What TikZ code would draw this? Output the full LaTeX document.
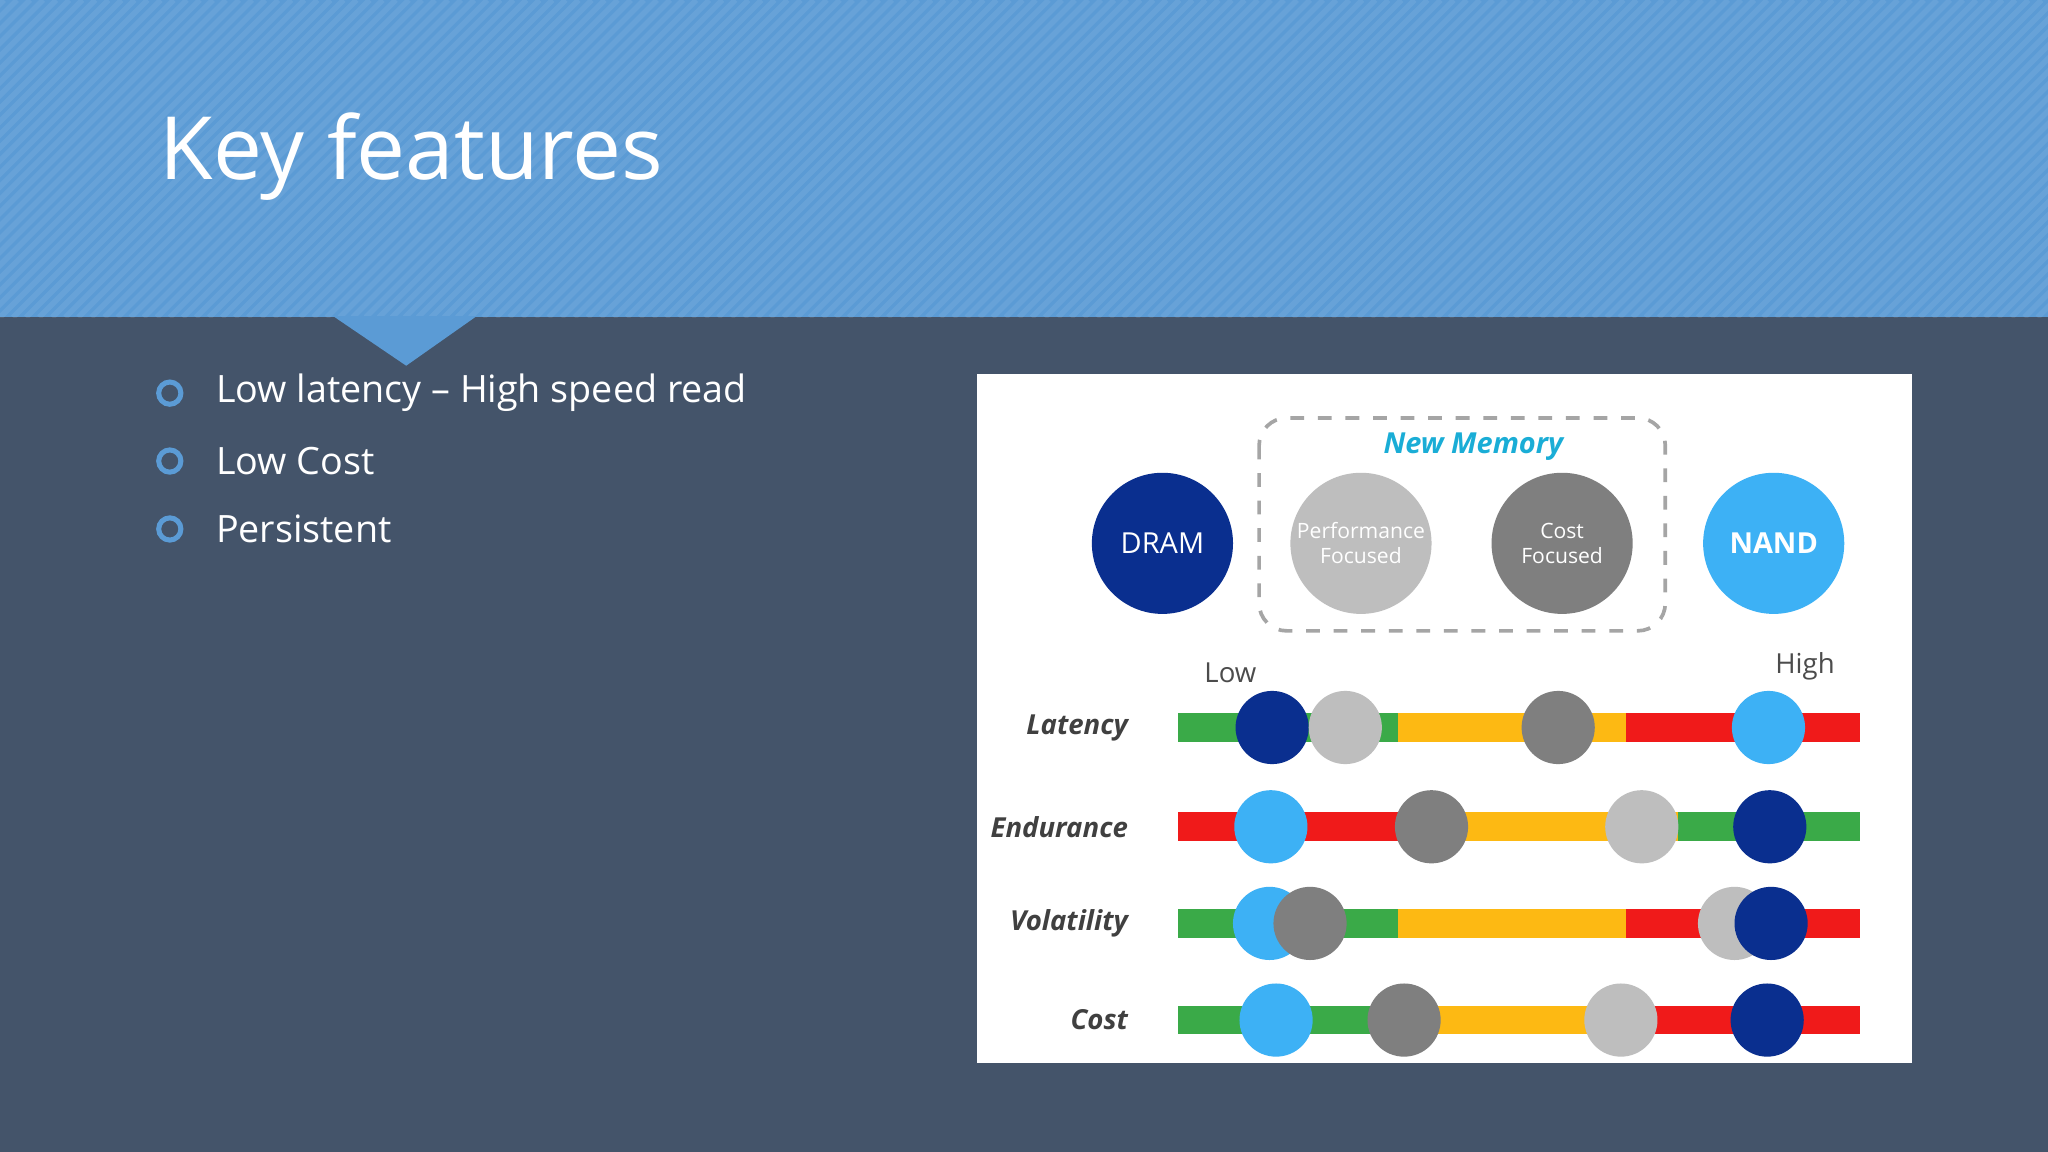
\documentclass[tikz,border=0pt]{standalone}
\usepackage{fontspec}
\setmainfont{Open Sans}
\begin{document}
\begin{tikzpicture}[x=0.01cm,y=-0.01cm,
  bul/.style={draw=cbul,line width=1.1pt,circle,minimum size=0.17cm,inner sep=0},
  btxt/.style={anchor=west,text=white,font=\fontsize{8.2}{10}\selectfont},
  big/.style={circle,minimum size=1.08cm,inner sep=0,text=white,align=center},
  dot/.style={circle,minimum size=0.56cm,inner sep=0},
  rlab/.style={anchor=east,font=\bfseries\itshape\fontsize{6}{7}\selectfont,text=black!75},
  bar/.style={line width=0.22cm}]
\definecolor{top}{HTML}{5B9BD5}
\definecolor{bg}{HTML}{44546A}
\definecolor{cbul}{HTML}{5B9BD5}
\definecolor{dblue}{HTML}{0A2F8F}
\definecolor{lblue}{HTML}{3DB1F5}
\definecolor{lgray}{HTML}{BEBEBE}
\definecolor{mgray}{HTML}{7F7F7F}
\definecolor{cg}{HTML}{3AAA48}
\definecolor{cy}{HTML}{FDB913}
\definecolor{cr}{HTML}{F01A1A}
\definecolor{cyan}{HTML}{1AADD6}
\useasboundingbox (0,0) rectangle (1568,882);
\fill[bg] (0,0) rectangle (1568,882);
\fill[top] (0,0) rectangle (1568,243);
\begin{scope}
\clip (0,0) rectangle (1568,243);
\foreach \i in {-300,-290,...,1600} \draw[white,opacity=0.08,line width=1.2pt] (\i,243) -- (\i+243,0);
\end{scope}
\fill[top] (255,242) -- (365,242) -- (311,280) -- cycle;
\node[anchor=west,text=white,font=\fontsize{19}{22}\selectfont] (title) at (110,120) {Key features};
\foreach \y/\t [count=\k] in {301/Low latency -- High speed read / write,353/Low Cost,405/Persistent / Non-volatile}{
  \node[bul] (b\k) at (130,\y) {};
  \node[btxt] (t\k) at (153,\y) {\t};
}
\fill[white] (748,286) rectangle (1464,814);
\draw[dashed,mgray!70,line width=0.8pt,rounded corners=6] (964,320) rectangle (1275,483);
\node[text=cyan,font=\bfseries\itshape\fontsize{6.3}{7}\selectfont] (nm) at (1128,342) {New Memory};
\node[big,fill=dblue,font=\fontsize{6.3}{7}\selectfont] (dram) at (890,416) {DRAM};
\node[big,fill=lgray,font=\fontsize{4.6}{5.4}\selectfont] (perf) at (1042,416) {Performance\\Focused};
\node[big,fill=mgray,font=\fontsize{4.6}{5.4}\selectfont] (costf) at (1196,416) {Cost\\Focused};
\node[big,fill=lblue,font=\bfseries\fontsize{6.3}{7}\selectfont] (nand) at (1358,416) {NAND};
\node[text=black!70,font=\fontsize{6}{7}\selectfont] (low) at (942,515) {Low};
\node[text=black!70,font=\fontsize{6}{7}\selectfont] (high) at (1382,510) {High};
% rows: y, label, c1 end, col1, c2 end, col2, col3, then dots
\newcommand{\barrow}[9]{%
  \node[rlab] at (876,#1) {#2};
  \draw[bar,#4] (902,#1) -- (#3,#1);
  \draw[bar,#6] (#3,#1) -- (#5,#1);
  \draw[bar,#7] (#5,#1) -- (1424,#1);
  #8#9}
\barrow{557}{Latency}{1070}{cg}{1245}{cy}{cr}{%
  \node[dot,fill=dblue] at (974,557) {};\node[dot,fill=lgray] at (1030,557) {};}{%
  \node[dot,fill=mgray] at (1193,557) {};\node[dot,fill=lblue] at (1354,557) {};}
\barrow{633}{Endurance}{1070}{cr}{1285}{cy}{cg}{%
  \node[dot,fill=lblue] at (973,633) {};\node[dot,fill=mgray] at (1096,633) {};}{%
  \node[dot,fill=lgray] at (1257,633) {};\node[dot,fill=dblue] at (1355,633) {};}
\barrow{707}{Volatility}{1070}{cg}{1245}{cy}{cr}{%
  \node[dot,fill=lblue] at (972,707) {};\node[dot,fill=mgray] at (1003,707) {};}{%
  \node[dot,fill=lgray] at (1328,707) {};\node[dot,fill=dblue] at (1356,707) {};}
\barrow{781}{Cost}{1075}{cg}{1241}{cy}{cr}{%
  \node[dot,fill=lblue] at (977,781) {};\node[dot,fill=mgray] at (1075,781) {};}{%
  \node[dot,fill=lgray] at (1241,781) {};\node[dot,fill=dblue] at (1353,781) {};}
\end{tikzpicture}
\end{document}
